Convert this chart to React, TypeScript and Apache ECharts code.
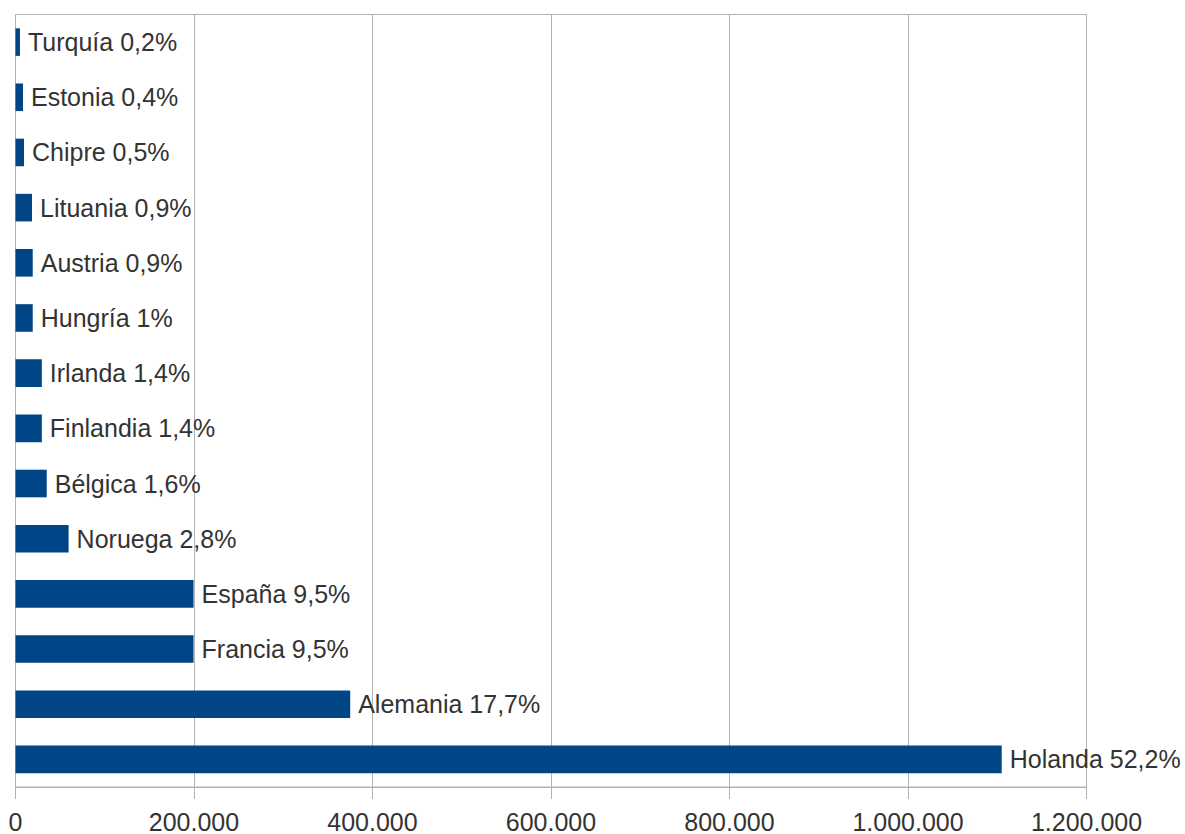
import React, { useEffect, useRef } from "react";
import * as echarts from "echarts";

const categories = [
  "Holanda", "Alemania", "Francia", "España", "Noruega", "Bélgica", "Finlandia",
  "Irlanda", "Hungría", "Austria", "Lituania", "Chipre", "Estonia", "Turquía",
];
const values = [
  1105000, 375000, 199500, 199500, 59500, 35000, 29500,
  29500, 19300, 19300, 18500, 9500, 8400, 5000,
];
const percents = [
  "52,2%", "17,7%", "9,5%", "9,5%", "2,8%", "1,6%", "1,4%",
  "1,4%", "1%", "0,9%", "0,9%", "0,5%", "0,4%", "0,2%",
];
const xTicks = { min: 0, max: 1200000, interval: 200000 };

const FONT = "'Liberation Sans', Arial, sans-serif";
const TEXT = "#333333";
const GRID = "#b3b3b3";

function fmt(v: number): string {
  return String(Math.round(v)).replace(/\B(?=(\d{3})+(?!\d))/g, ".");
}

export default function App() {
  const ref = useRef<HTMLDivElement>(null);
  useEffect(() => {
    if (!ref.current) return;
    const chart = echarts.init(ref.current, null, { renderer: "svg" });
    chart.setOption({
      animation: false,
      backgroundColor: "#ffffff",
      grid: {
        left: 15.5,
        right: 98.5,
        top: 14.5,
        bottom: 46,
        show: true,
        borderColor: GRID,
        borderWidth: 1,
        containLabel: false,
      },
      xAxis: {
        type: "value",
        min: xTicks.min,
        max: xTicks.max,
        interval: xTicks.interval,
        axisLine: { show: true, lineStyle: { color: GRID, width: 1 } },
        axisTick: { show: true, length: 12, lineStyle: { color: GRID } },
        splitLine: { show: true, lineStyle: { color: GRID, width: 1 } },
        axisLabel: {
          color: TEXT,
          fontFamily: FONT,
          fontSize: 25,
          margin: 22,
          formatter: (v: number) => fmt(v),
        },
      },
      yAxis: {
        type: "category",
        data: categories,
        axisLine: { show: true, lineStyle: { color: GRID, width: 1 } },
        axisTick: { show: false },
        axisLabel: { show: false },
        splitLine: { show: false },
      },
      series: [
        {
          type: "bar",
          data: values,
          barCategoryGap: "50%",
          itemStyle: { color: "#004586" },
          label: {
            show: true,
            position: "right",
            distance: 8,
            color: TEXT,
            fontFamily: FONT,
            fontSize: 25,
            formatter: (p: any) => `${categories[p.dataIndex]} ${percents[p.dataIndex]}`,
          },
        },
      ],
    });
    return () => chart.dispose();
  }, []);
  return (
    <div
      ref={ref}
      style={{ position: "fixed", left: 0, top: 0, width: 1185, height: 834, background: "#fff" }}
    />
  );
}
